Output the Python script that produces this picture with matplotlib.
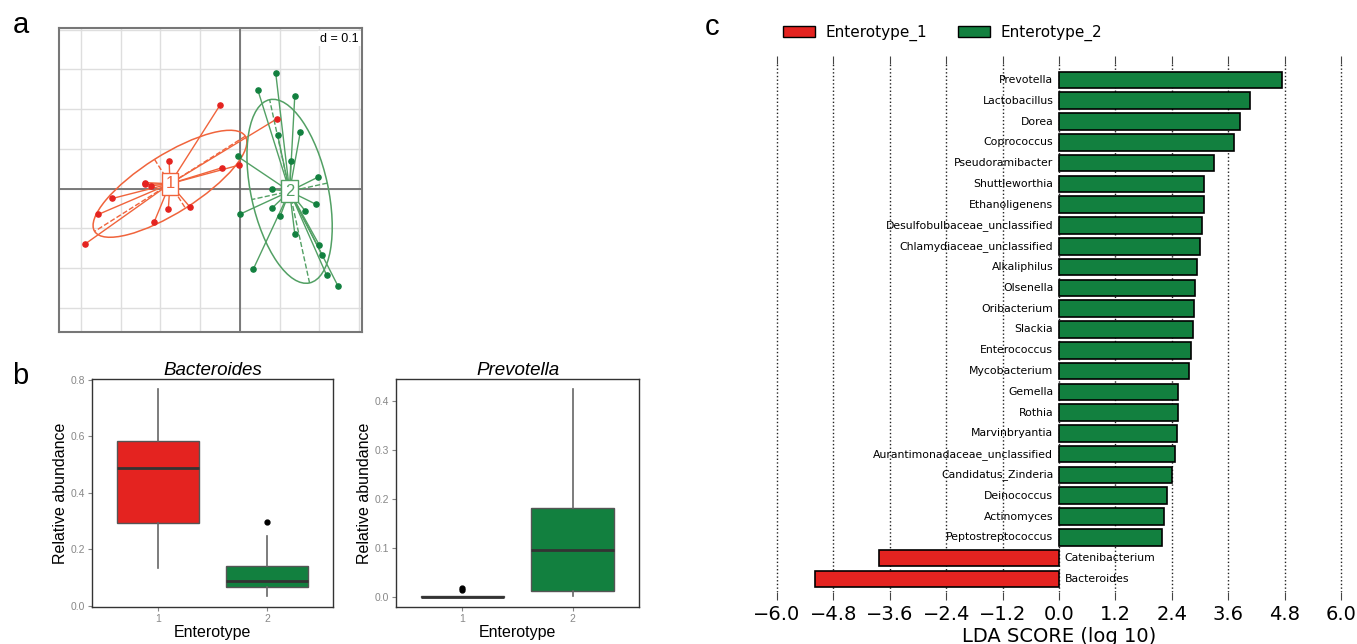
import numpy as np
import matplotlib
matplotlib.use("Agg")
import matplotlib.pyplot as plt
from matplotlib.patches import Ellipse

# ---- panel a: class scores of the samples
type1_x = [-0.050, 0.094, -0.178, -0.046, -0.002, -0.239, -0.238, -0.223,
           -0.321, -0.168, -0.180, -0.126, -0.356, -0.216, -0.390]
type1_y = [0.210, 0.176, 0.070, 0.052, 0.059, 0.015, 0.011, 0.007,
           -0.025, -0.008, -0.051, -0.046, -0.065, -0.085, -0.140]
type2_x = [0.090, 0.045, 0.138, 0.095, 0.152, -0.006, 0.128, 0.197, 0.080, 0.192,
           0.081, 0.164, -0.001, 0.101, 0.138, 0.199, 0.206, 0.034, 0.218, 0.247]
type2_y = [0.291, 0.248, 0.234, 0.134, 0.143, 0.081, 0.070, 0.029, -0.002, -0.040,
           -0.049, -0.056, -0.065, -0.070, -0.114, -0.141, -0.166, -0.202, -0.218, -0.246]

# ---- panel b: box plot summaries
groups = ["1", "2"]
bact_whislo = [0.132, 0.033]
bact_q1 = [0.292, 0.065]
bact_med = [0.486, 0.087]
bact_q3 = [0.584, 0.139]
bact_whishi = [0.767, 0.247]
bact_fliers = [[], [0.295]]

prev_whislo = [0.0, 0.001]
prev_q1 = [0.0, 0.012]
prev_med = [0.0005, 0.097]
prev_q3 = [0.002, 0.183]
prev_whishi = [0.003, 0.425]
prev_fliers = [[0.014, 0.018], []]

# ---- panel c: LDA scores (negative = Enterotype_1)
taxa = ["Prevotella", "Lactobacillus", "Dorea", "Coprococcus", "Pseudoramibacter",
        "Shuttleworthia", "Ethanoligenens", "Desulfobulbaceae_unclassified",
        "Chlamydiaceae_unclassified", "Alkaliphilus", "Olsenella", "Oribacterium",
        "Slackia", "Enterococcus", "Mycobacterium", "Gemella", "Rothia",
        "Marvinbryantia", "Aurantimonadaceae_unclassified", "Candidatus_Zinderia",
        "Deinococcus", "Actinomyces", "Peptostreptococcus", "Catenibacterium",
        "Bacteroides"]
lda = [4.74, 4.06, 3.84, 3.73, 3.30, 3.09, 3.08, 3.05, 3.00, 2.93, 2.89, 2.87,
       2.84, 2.80, 2.77, 2.53, 2.53, 2.51, 2.46, 2.40, 2.30, 2.23, 2.20,
       -3.83, -5.20]
lda_ticks = [-6.0, -4.8, -3.6, -2.4, -1.2, 0.0, 1.2, 2.4, 3.6, 4.8, 6.0]

RED = "#e42320"
GREEN = "#12803f"
RED_LINE = "#f0643c"
GREEN_LINE = "#52a064"
RFONT = "Liberation Sans"

W, H = 1357, 644
fig = plt.figure(figsize=(W / 100, H / 100), dpi=100)


def px_axes(left, top, right, bottom):
    return fig.add_axes([left / W, 1 - bottom / H, (right - left) / W, (bottom - top) / H])


def star_class(ax, xs, ys, label, pcol, lcol):
    pts = np.column_stack([xs, ys])
    c = pts.mean(axis=0)
    cov = np.cov(pts.T, bias=True)
    vals, vecs = np.linalg.eigh(cov)
    for x, y in pts:
        ax.plot([c[0], x], [c[1], y], color=lcol, lw=1, zorder=3)
    ang = np.degrees(np.arctan2(vecs[1, 1], vecs[0, 1]))
    ax.add_patch(Ellipse(c, 2 * 1.5 * np.sqrt(vals[1]), 2 * 1.5 * np.sqrt(vals[0]),
                         angle=ang, fill=False, ec=lcol, lw=1.1, zorder=3))
    for i in range(2):
        d = 1.5 * np.sqrt(vals[i]) * vecs[:, i]
        ax.plot([c[0] - d[0], c[0] + d[0]], [c[1] - d[1], c[1] + d[1]],
                color=lcol, lw=1, ls="--", zorder=3)
    ax.scatter(xs, ys, s=14, color=pcol, zorder=4)
    ax.text(c[0], c[1], label, ha="center", va="center", color=lcol, fontsize=12,
            family=RFONT, zorder=5,
            bbox=dict(boxstyle="square,pad=0.22", fc="white", ec=lcol, lw=1))


# panel a
ax = px_axes(59, 28, 362, 332)
ax.set_xlim(-0.455, 0.307)
ax.set_ylim(-0.361, 0.404)
ax.set_xticks(np.arange(-0.4, 0.31, 0.1))
ax.set_yticks(np.arange(-0.3, 0.41, 0.1))
ax.grid(True, color="#dedede", lw=1)
ax.tick_params(length=0, labelbottom=False, labelleft=False)
ax.axhline(0, color="#666666", lw=1.2, zorder=2)
ax.axvline(0, color="#666666", lw=1.2, zorder=2)
for s in ax.spines.values():
    s.set_color("#777777")
    s.set_linewidth(1.5)
star_class(ax, type1_x, type1_y, "1", RED, RED_LINE)
star_class(ax, type2_x, type2_y, "2", GREEN, GREEN_LINE)
ax.text(0.99, 0.985, "d = 0.1", transform=ax.transAxes, ha="right", va="top",
        fontsize=9, family=RFONT, zorder=6,
        bbox=dict(boxstyle="square,pad=0.15", fc="white", ec="none"))


# panel b
def box_panel(ax, title, whislo, q1, med, q3, whishi, fliers, ylim, yticks):
    stats = []
    for i in range(len(groups)):
        stats.append(dict(whislo=whislo[i], q1=q1[i], med=med[i], q3=q3[i],
                          whishi=whishi[i], fliers=fliers[i]))
    bp = ax.bxp(stats, positions=[1, 2], widths=0.75, patch_artist=True, showcaps=False,
                boxprops=dict(edgecolor="#555555", lw=1),
                medianprops=dict(color="#333333", lw=2),
                whiskerprops=dict(color="#666666", lw=1.2),
                flierprops=dict(marker="o", mfc="black", mec="black", ms=3.5))
    for patch, col in zip(bp["boxes"], [RED, GREEN]):
        patch.set_facecolor(col)
    ax.set_xlim(0.4, 2.6)
    ax.set_ylim(*ylim)
    ax.set_yticks(yticks)
    ax.set_yticklabels(["%.1f" % t for t in yticks])
    ax.set_xticks([1, 2])
    ax.set_xticklabels(groups)
    ax.tick_params(colors="#888888", labelsize=7.5, length=3, pad=2)
    for lab in ax.get_xticklabels() + ax.get_yticklabels():
        lab.set_family(RFONT)
    for s in ax.spines.values():
        s.set_color("#333333")
        s.set_linewidth(1)
    ax.set_title(title, fontsize=13.5, style="italic", family=RFONT, pad=3)
    ax.set_ylabel("Relative abundance", fontsize=11.5, family=RFONT, labelpad=2)
    ax.set_xlabel("Enterotype", fontsize=11.5, family=RFONT, labelpad=1)


ax = px_axes(92, 379, 333, 607)
box_panel(ax, "Bacteroides", bact_whislo, bact_q1, bact_med, bact_q3, bact_whishi,
          bact_fliers, (-0.005, 0.802), [0.0, 0.2, 0.4, 0.6, 0.8])
ax = px_axes(396, 379, 639, 607)
box_panel(ax, "Prevotella", prev_whislo, prev_q1, prev_med, prev_q3, prev_whishi,
          prev_fliers, (-0.0205, 0.446), [0.0, 0.1, 0.2, 0.3, 0.4])

# panel c
ax = px_axes(774.6, 64, 1343.4, 592)
pos = np.arange(len(taxa))[::-1]
cols = [GREEN if v > 0 else RED for v in lda]
ax.barh(pos, lda, height=0.8, color=cols, edgecolor="black", lw=1.2, zorder=3)
for p, v, name in zip(pos, lda, taxa):
    if v > 0:
        ax.text(-0.12, p, name, ha="right", va="center", fontsize=7.8, zorder=4)
    else:
        ax.text(0.12, p, name, ha="left", va="center", fontsize=7.8, zorder=4)
ax.set_xlim(-6.05, 6.05)
ax.set_ylim(-0.63, 24.77)
ax.set_xticks(lda_ticks)
ax.set_xticklabels(["%.1f" % t if t >= 0 else "\u2212%.1f" % -t for t in lda_ticks])
ax.set_yticks([])
ax.grid(True, axis="x", ls=":", color="#222222", lw=1, zorder=0)
ax.tick_params(axis="x", top=True, labelsize=14, length=6, color="#444444")
for s in ax.spines.values():
    s.set_visible(False)
ax.set_xlabel("LDA SCORE (log 10)", fontsize=14, labelpad=2)
fig.legend(handles=[plt.Rectangle((0, 0), 1, 1, fc=RED, ec="black"),
                    plt.Rectangle((0, 0), 1, 1, fc=GREEN, ec="black")],
           labels=["Enterotype_1", "Enterotype_2"], loc="center left",
           bbox_to_anchor=(769 / W, 1 - 33 / H), ncol=2, frameon=False, fontsize=11,
           handlelength=2.1, handleheight=0.8, handletextpad=0.7, columnspacing=2.0)

# panel letters
for letter, x, y in [("a", 21, 25), ("b", 20, 376), ("c", 712, 27)]:
    fig.text(x / W, 1 - y / H, letter, ha="center", va="center", fontsize=21, family=RFONT)

fig.savefig("out.png", dpi=100)
